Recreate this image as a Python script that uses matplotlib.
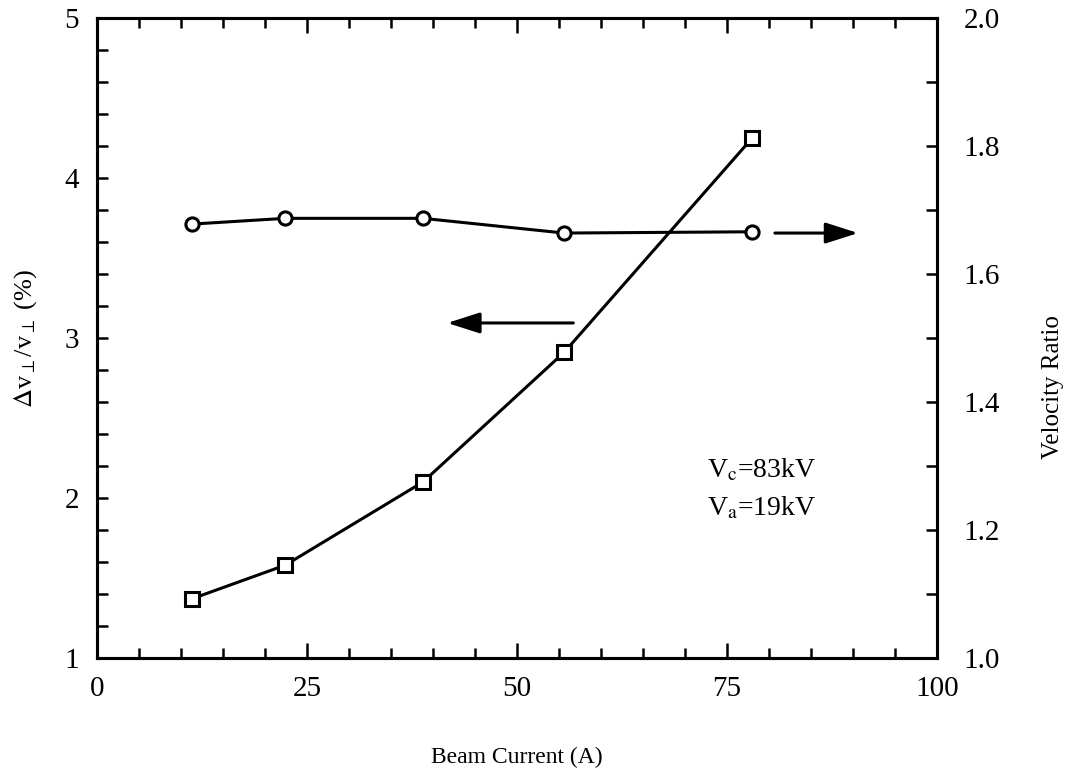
import matplotlib
matplotlib.use('Agg')
import matplotlib.pyplot as plt
from matplotlib.ticker import MultipleLocator

plt.rcParams['font.family'] = ['Liberation Serif', 'DejaVu Serif']
plt.rcParams['mathtext.fontset'] = 'stix'

# beam current (A)
current = [11.3, 22.4, 38.8, 55.6, 78.0]
# velocity spread (%), left axis
spread = [1.37, 1.58, 2.10, 2.91, 4.25]
# velocity ratio, right axis
ratio = [1.678, 1.687, 1.687, 1.664, 1.666]

fig = plt.figure(figsize=(10.72, 7.74), dpi=100)
ax = fig.add_axes([0.0905, 0.1499, 0.7836, 0.8268])
ax2 = ax.twinx()

lw = 2.2
ax.plot(current, spread, color='black', lw=lw, marker='s', ms=10.5,
        mfc='white', mec='black', mew=2.2, zorder=3)
ax2.plot(current, ratio, color='black', lw=lw, marker='o', ms=9.5,
         mfc='white', mec='black', mew=2.2, zorder=3)

ax.set_xlim(0, 100)
ax.set_ylim(1, 5)
ax2.set_ylim(1.0, 2.0)

ax.xaxis.set_major_locator(MultipleLocator(25))
ax.xaxis.set_minor_locator(MultipleLocator(5))
ax.yaxis.set_major_locator(MultipleLocator(1))
ax.yaxis.set_minor_locator(MultipleLocator(0.2))
ax2.yaxis.set_major_locator(MultipleLocator(0.2))
ax2.yaxis.set_minor_locator(MultipleLocator(0.1))
ax2.yaxis.set_major_formatter(lambda v, pos: f'{v:.1f}')

ax.tick_params(axis='x', which='both', direction='in', top=True, width=1.8,
               labelsize=21, pad=13)
ax.tick_params(axis='x', which='major', length=11)
ax.tick_params(axis='x', which='minor', length=7)
ax.tick_params(axis='y', which='both', direction='in', right=False, width=1.8,
               labelsize=21, pad=13, length=8)
ax2.tick_params(axis='y', which='both', direction='in', width=1.8,
                labelsize=21, pad=19, length=8)

for a in (ax, ax2):
    for s in a.spines.values():
        s.set_linewidth(2.2)

ax.set_xlabel('Beam Current (A)', fontsize=17, labelpad=32)
ax.set_ylabel(r'$\Delta$v$_\perp$/v$_\perp$ (%)', fontsize=19, labelpad=18)
ax2.set_ylabel('Velocity Ratio', fontsize=18)
ax2.yaxis.set_label_coords(1.125, 0.423)

arrow = dict(arrowstyle='-|>,head_length=1.0,head_width=0.32',
             color='black', lw=2.2, mutation_scale=20, shrinkA=0, shrinkB=0)
ax.annotate('', xy=(41.7, 3.094), xytext=(56.7, 3.094), arrowprops=arrow)
ax2.annotate('', xy=(90.6, 1.664), xytext=(80.7, 1.664), arrowprops=arrow)

ax.text(72.6, 2.13, r'V$_\mathrm{c}$=83kV', fontsize=20, va='baseline')
ax.text(72.6, 1.894, r'V$_\mathrm{a}$=19kV', fontsize=20, va='baseline')

fig.savefig('out.png', dpi=100)
